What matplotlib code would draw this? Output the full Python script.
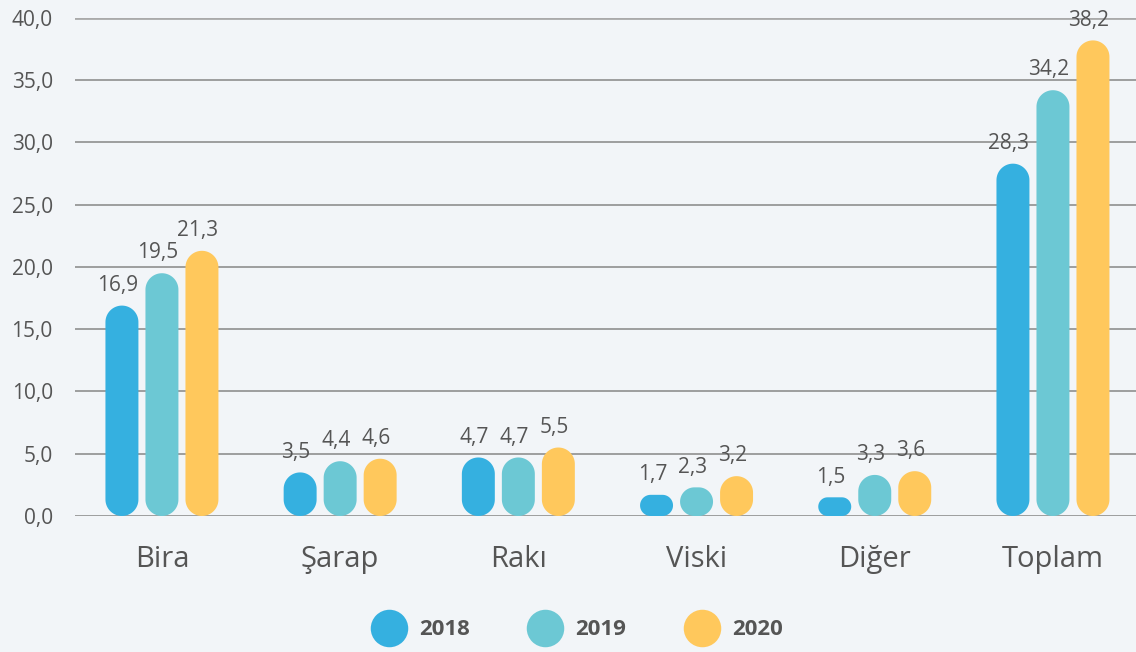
import numpy as np
import matplotlib.pyplot as plt
from matplotlib.patches import Polygon
from matplotlib.lines import Line2D

plt.rcParams['font.family'] = ['Open Sans', 'DejaVu Sans']

# Datos
categorias = ['Bira', 'Şarap', 'Rakı', 'Viski', 'Diğer', 'Toplam']
anios = ['2018', '2019', '2020']
v2018 = [16.9, 3.5, 4.7, 1.7, 1.5, 28.3]
v2019 = [19.5, 4.4, 4.7, 2.3, 3.3, 34.2]
v2020 = [21.3, 4.6, 5.5, 3.2, 3.6, 38.2]
series = [v2018, v2019, v2020]
colores = ['#35b0e0', '#6cc8d4', '#ffc85c']

bg = '#f2f5f8'
texto = '#555555'

fig = plt.figure(figsize=(11.36, 6.52), dpi=100, facecolor=bg)
ax = fig.add_axes([0.066, 0.2086, 0.934, 0.7638])
ax.set_facecolor(bg)

ax.set_xlim(-0.488, 5.466)
ax.set_ylim(0, 40)

# Grid
ax.set_yticks(range(0, 41, 5))
ax.set_yticklabels([f"{t:.1f}".replace('.', ',') for t in range(0, 41, 5)],
                   fontsize=15, color=texto)
for t in range(0, 41, 5):
    ax.axhline(t, color='#aaaaaa' if t == 40 else '#8f8f8f',
               lw=2.0 if t == 40 else 1.2, zorder=0)
ax.tick_params(axis='y', length=0, pad=16)
ax.tick_params(axis='x', length=0, pad=21)
for s in ax.spines.values():
    s.set_visible(False)

ancho = 0.185
paso = 0.2245
x = list(range(len(categorias)))

# aspecto (px por unidad) para esquinas circulares
fig.canvas.draw()
p0 = ax.transData.transform((0, 0))
p1 = ax.transData.transform((1, 1))
aspect = (p1[0] - p0[0]) / (p1[1] - p0[1])


def pastilla(bx, by, w, h):
    # rectangulo con esquinas totalmente redondeadas
    r = min(w / 2, (h / aspect) / 2)
    rx, ry = r, r * aspect
    pts = []
    centros = [(bx + w - rx, by + h - ry, 0), (bx + rx, by + h - ry, 90),
               (bx + rx, by + ry, 180), (bx + w - rx, by + ry, 270)]
    for cx, cy, a0 in centros:
        ang = np.radians(np.linspace(a0, a0 + 90, 24))
        pts += list(zip(cx + rx * np.cos(ang), cy + ry * np.sin(ang)))
    return pts


for i, (vals, col) in enumerate(zip(series, colores)):
    xs = [xi + (i - 1) * paso for xi in x]
    barras = ax.bar(xs, vals, width=ancho, color=col, alpha=0)
    for rect, v in zip(barras, vals):
        bx, by = rect.get_x(), rect.get_y()
        w, h = rect.get_width(), rect.get_height()
        ax.add_patch(Polygon(pastilla(bx, by, w, h), closed=True,
                             fc=col, ec='none', zorder=2))
        ax.annotate(f"{v:.1f}".replace('.', ','), (bx + w / 2, by + h),
                    xytext=(-3, 7), textcoords='offset points',
                    ha='center', va='bottom', fontsize=15, color=texto)

ax.set_xticks(x)
ax.set_xticklabels(categorias, fontsize=21, color=texto)

handles = [Line2D([], [], marker='o', ls='none', markersize=27,
                  markerfacecolor=c, markeredgecolor='none') for c in colores]
fig.legend(handles, anios, loc='center', bbox_to_anchor=(0.506, 0.034),
           ncol=3, frameon=False, handletextpad=0.35, columnspacing=2.4,
           prop={'size': 16, 'weight': 'bold'}, labelcolor=texto)

plt.savefig('out.png', dpi=100, facecolor=bg)
plt.close()
